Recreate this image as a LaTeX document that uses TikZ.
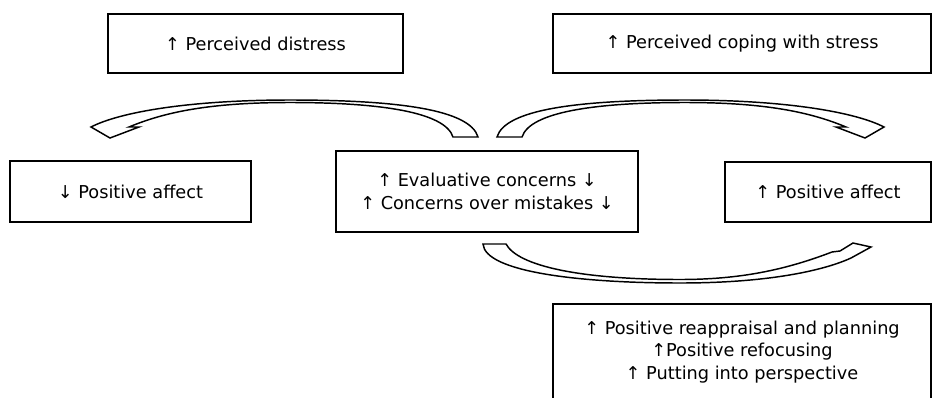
\documentclass[tikz,border=0pt]{standalone}
\usepackage{fontspec}
\setmainfont{DejaVu Sans}
\usepackage{tikz}

\tikzset{
    factor/.style={draw, line width=1.5pt, align=center, inner sep=0pt,
        font=\fontsize{13.3}{16.8}\selectfont},
    bent/.style={draw, fill=white, line width=1.1pt, line join=miter},
}

\begin{document}
\begin{tikzpicture}[x=0.75pt, y=-0.75pt]
    \clip (0,0) rectangle (952,397);
    \useasboundingbox (0,0) rectangle (952,397);
    % boxes
    \node[factor, minimum width=295*0.75pt, minimum height=59*0.75pt]
        (distress) at (255.5,43.5) {↑ Perceived distress};
    \node[factor, minimum width=378*0.75pt, minimum height=59*0.75pt]
        (coping) at (742,43.5) {↑ Perceived coping with stress};
    \node[factor, minimum width=241*0.75pt, minimum height=61*0.75pt]
        (negaff) at (130.5,191.5) {↓ Positive affect};
    \node[factor, minimum width=302*0.75pt, minimum height=81*0.75pt]
        (concerns) at (487,191.5) {↑ Evaluative concerns ↓\\↑ Concerns over mistakes ↓};
    \node[factor, minimum width=206*0.75pt, minimum height=60*0.75pt]
        (posaff) at (828,192) {↑ Positive affect};
    \node[factor, minimum width=378*0.75pt, minimum height=96*0.75pt]
        (strategies) at (742,352) {↑ Positive reappraisal and planning\\↑Positive refocusing\\↑ Putting into perspective};
    % bent arrows
    \draw[bent] (478,137) .. controls (470,110) and (400,100) .. (290,100)
        .. controls (190,100) and (120,112) .. (91,127) -- (110,138)
        -- (139,127) -- (129,127)
        .. controls (165,112) and (210,102.5) .. (290,102.5)
        .. controls (380,102.5) and (445,112) .. (453,137) -- cycle;
    \begin{scope}[shift={(975,0)}, xscale=-1]
        \draw[bent] (478,137) .. controls (470,110) and (400,100) .. (290,100)
            .. controls (190,100) and (120,112) .. (91,127) -- (110,138)
            -- (139,127) -- (129,127)
            .. controls (165,112) and (210,102.5) .. (290,102.5)
            .. controls (380,102.5) and (445,112) .. (453,137) -- cycle;
    \end{scope}
    \draw[bent] (483,244) .. controls (485,272) and (580,283) .. (680,283)
        .. controls (770,283) and (825,270) .. (851,258) -- (871,247)
        -- (853,243) -- (840,251) -- (832,252)
        .. controls (785,270) and (740,279.5) .. (680,279.5)
        .. controls (580,279.5) and (518,266) .. (506,244) -- cycle;
\end{tikzpicture}
\end{document}
